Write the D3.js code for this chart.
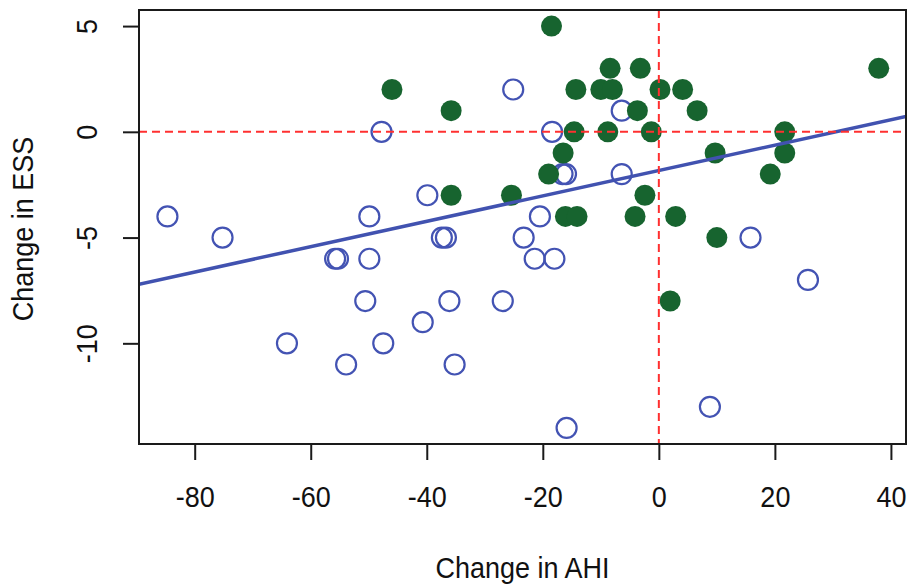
<!DOCTYPE html>
<html>
<head>
<meta charset="utf-8">
<script src="https://cdn.jsdelivr.net/npm/d3@7"></script>
<style>
  html, body { margin: 0; padding: 0; background: #fff; }
  svg text { font-family: "Liberation Sans", Arial, sans-serif; fill: #111; }
</style>
</head>
<body>
<svg id="chart" width="912" height="585"></svg>
<script>
// Change in AHI (x) vs change in ESS (y), two groups of patients
const openAHI = [-84.7, -75.2, -64.1, -55.8, -55.3, -49.9, -49.9, -50.6, -47.5, -53.9,
                 -47.8, -39.9, -25.1, -18.4, -16.6, -16.0, -6.4, -6.4, -20.5, -37.4,
                 -36.7, -23.3, -21.4, -18.0, -36.1, -26.9, -40.7, -35.2, -15.9, 15.8,
                 25.7, 8.8];
const openESS = [-4, -5, -10, -6, -6, -4, -6, -8, -10, -11,
                 0, -3, 2, 0, -2, -2, 1, -2, -4, -5,
                 -5, -5, -6, -6, -8, -8, -9, -11, -14, -5,
                 -7, -13];

const filledAHI = [-46.0, -18.5, -35.8, -14.3, -10.0, -8.0, -8.4, -3.2, -3.7, -14.6,
                   -8.8, -1.3, -16.5, -19.0, -35.8, -25.4, -2.4, -16.1, -14.1, -4.1,
                   2.9, 0.2, 4.1, 6.6, 21.7, 21.7, 9.7, 19.2, 37.9, 10.0,
                   1.95];
const filledESS = [2, 5, 1, 2, 2, 2, 3, 3, 1, 0,
                   0, 0, -1, -2, -3, -3, -3, -4, -4, -4,
                   -4, 2, 2, 1, 0, -1, -1, -2, 3, -5,
                   -8];

// fitted line ESS = intercept + slope * AHI
const fitIntercept = -1.83;
const fitSlope = 0.060;

const xTicks = [-80, -60, -40, -20, 0, 20, 40];
const yTicks = [5, 0, -5, -10];

const xTitle = "Change in AHI";
const yTitle = "Change in ESS";

const svg = d3.select("#chart");
const plotLeft = 139, plotRight = 906, plotTop = 10, plotBottom = 444;
const textStretch = 1.12;   // glyphs are drawn slightly tall and narrow

const x = d3.scaleLinear().domain([-89.6, 42.6]).range([plotLeft, plotRight]);
const y = d3.scaleLinear().domain([-14.76, 5.76]).range([plotBottom, plotTop]);

svg.append("defs").append("clipPath").attr("id", "plotclip")
  .append("rect").attr("x", plotLeft).attr("y", plotTop)
  .attr("width", plotRight - plotLeft).attr("height", plotBottom - plotTop);

const plot = svg.append("g").attr("clip-path", "url(#plotclip)");

// open circles
plot.selectAll("circle.open")
  .data(d3.zip(openAHI, openESS))
  .join("circle")
  .attr("class", "open")
  .attr("cx", d => x(d[0]))
  .attr("cy", d => y(d[1]))
  .attr("r", 10)
  .attr("fill", "none")
  .attr("stroke", "#4353b3")
  .attr("stroke-width", 2.2);

// filled circles
plot.selectAll("circle.filled")
  .data(d3.zip(filledAHI, filledESS))
  .join("circle")
  .attr("class", "filled")
  .attr("cx", d => x(d[0]))
  .attr("cy", d => y(d[1]))
  .attr("r", 10.5)
  .attr("fill", "#17642f");

// regression line across the full plotting range
const xd = x.domain();
plot.append("line")
  .attr("x1", x(xd[0])).attr("y1", y(fitIntercept + fitSlope * xd[0]))
  .attr("x2", x(xd[1])).attr("y2", y(fitIntercept + fitSlope * xd[1]))
  .attr("stroke", "#4152b0")
  .attr("stroke-width", 3.5);

// reference lines at zero
plot.append("line")
  .attr("x1", plotLeft).attr("x2", plotRight)
  .attr("y1", y(0)).attr("y2", y(0))
  .attr("stroke", "#ff3030").attr("stroke-width", 2)
  .attr("stroke-dasharray", "8,5");
plot.append("line")
  .attr("x1", x(0)).attr("x2", x(0))
  .attr("y1", plotTop).attr("y2", plotBottom)
  .attr("stroke", "#ff3030").attr("stroke-width", 2)
  .attr("stroke-dasharray", "8,5");

// frame
svg.append("rect")
  .attr("x", plotLeft).attr("y", plotTop)
  .attr("width", plotRight - plotLeft).attr("height", plotBottom - plotTop)
  .attr("fill", "none").attr("stroke", "#1a1a1a").attr("stroke-width", 2);

const fmt = d => d < 0 ? "-" + Math.abs(d) : String(d);

// x axis
const xAxis = d3.axisBottom(x).tickValues(xTicks).tickSize(16);
const gx = svg.append("g").attr("transform", `translate(0,${plotBottom})`).call(xAxis);
gx.select(".domain").remove();
gx.selectAll(".tick line").attr("stroke", "#1a1a1a").attr("stroke-width", 2);
gx.selectAll(".tick text")
  .attr("font-size", 27).attr("fill", "#111")
  .attr("font-family", "Liberation Sans, Arial, sans-serif")
  .attr("y", null).attr("dy", null)
  .attr("transform", `translate(0,63) scale(1,${textStretch})`)
  .text(fmt);

// y axis
const yAxis = d3.axisLeft(y).tickValues(yTicks).tickSize(16);
const gy = svg.append("g").attr("transform", `translate(${plotLeft},0)`).call(yAxis);
gy.select(".domain").remove();
gy.selectAll(".tick line").attr("stroke", "#1a1a1a").attr("stroke-width", 2);
gy.selectAll(".tick text")
  .attr("font-size", 27).attr("fill", "#111")
  .attr("font-family", "Liberation Sans, Arial, sans-serif")
  .attr("x", null).attr("dy", null)
  .attr("text-anchor", "middle")
  .attr("transform", `translate(-42,0) rotate(-90) scale(1,${textStretch})`)
  .text(fmt);

// titles
svg.append("text")
  .attr("transform", `translate(${(plotLeft + plotRight) / 2},578) scale(1,${textStretch})`)
  .attr("text-anchor", "middle").attr("font-size", 27)
  .text(xTitle);
svg.append("text")
  .attr("transform", `translate(33,${(plotTop + plotBottom) / 2 + 2}) rotate(-90) scale(1,${textStretch})`)
  .attr("text-anchor", "middle").attr("font-size", 27)
  .text(yTitle);
</script>
</body>
</html>
